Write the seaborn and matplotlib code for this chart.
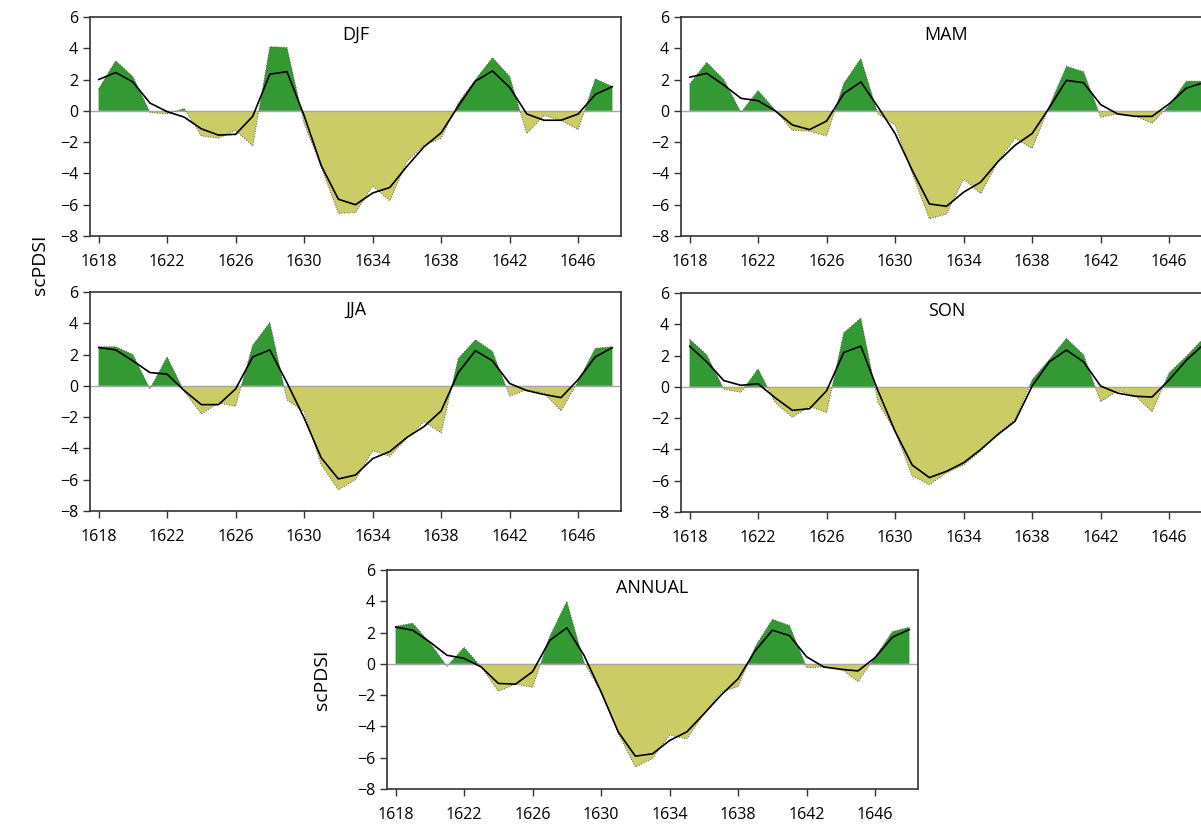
import numpy as np
import pandas as pd
import seaborn as sns
import matplotlib
matplotlib.use('Agg')
import matplotlib.pyplot as plt


# DATA
years = list(range(1618, 1649))

djf_raw = [1.4, 3.2, 2.2, -0.1, -0.2, 0.15, -1.6, -1.75, -1.25, -2.25, 4.1, 4.05, -0.8, -3.6, -6.55, -6.5,
           -4.8, -5.75, -3.25, -2.2, -1.75, 0.5, 2.0, 3.4, 2.2, -1.45, -0.3, -0.6, -1.2, 2.05, 1.55]
djf_smooth = [2.0, 2.45, 1.85, 0.5, -0.05, -0.4, -1.15, -1.55, -1.5, -0.35, 2.35, 2.5, -0.3, -3.5, -5.65, -6.0,
              -5.25, -4.9, -3.55, -2.3, -1.4, 0.3, 1.9, 2.55, 1.5, -0.2, -0.6, -0.6, -0.2, 1.05, 1.55]

mam_raw = [1.7, 3.1, 2.0, -0.1, 1.3, 0.05, -1.25, -1.3, -1.6, 1.75, 3.35, -0.2, -0.9, -4.0, -6.9, -6.6,
           -4.35, -5.3, -3.25, -1.75, -2.4, 0.3, 2.85, 2.5, -0.4, -0.2, -0.3, -0.8, 0.35, 1.9, 1.9]
mam_smooth = [2.15, 2.4, 1.65, 0.8, 0.65, 0.0, -0.9, -1.2, -0.65, 1.1, 1.85, 0.25, -1.45, -3.8, -5.95, -6.1,
              -5.2, -4.55, -3.25, -2.2, -1.45, 0.2, 1.95, 1.8, 0.4, -0.2, -0.35, -0.35, 0.45, 1.45, 1.8]

jja_raw = [2.5, 2.5, 2.0, -0.2, 1.85, -0.35, -1.8, -1.1, -1.3, 2.6, 4.05, -0.9, -1.65, -5.05, -6.65, -6.0,
           -4.15, -4.5, -3.35, -2.3, -3.0, 1.75, 2.95, 2.2, -0.65, -0.25, -0.45, -1.6, 0.3, 2.4, 2.5]
jja_smooth = [2.45, 2.3, 1.6, 0.85, 0.75, -0.3, -1.2, -1.2, -0.2, 1.85, 2.3, 0.2, -2.05, -4.6, -5.95, -5.7,
              -4.65, -4.2, -3.3, -2.6, -1.6, 0.85, 2.25, 1.6, 0.15, -0.3, -0.55, -0.75, 0.4, 1.85, 2.45]

son_raw = [3.05, 2.05, -0.15, -0.35, 1.15, -1.0, -1.95, -1.25, -1.65, 3.45, 4.4, -1.0, -2.85, -5.7, -6.25, -5.5,
           -5.0, -4.1, -2.95, -2.1, 0.45, 1.75, 3.1, 2.05, -0.95, -0.25, -0.55, -1.6, 0.9, 1.95, 3.1]
son_smooth = [2.6, 1.6, 0.4, 0.1, 0.2, -0.7, -1.5, -1.4, -0.25, 2.2, 2.6, -0.25, -2.85, -5.0, -5.8, -5.4,
              -4.85, -4.0, -3.05, -2.2, 0.05, 1.6, 2.35, 1.6, 0.05, -0.4, -0.6, -0.65, 0.45, 1.7, 2.7]

ann_raw = [2.4, 2.6, 1.35, -0.15, 1.05, -0.2, -1.75, -1.3, -1.5, 1.75, 4.0, 0.1, -1.8, -4.45, -6.6, -6.05,
           -4.55, -4.8, -3.2, -1.8, -1.45, 1.1, 2.85, 2.45, -0.25, -0.2, -0.3, -1.15, 0.45, 2.05, 2.35]
ann_smooth = [2.35, 2.15, 1.4, 0.55, 0.35, -0.2, -1.25, -1.3, -0.5, 1.5, 2.3, 0.55, -1.8, -4.35, -5.9, -5.75,
              -4.9, -4.35, -3.2, -2.0, -0.95, 0.85, 2.15, 1.8, 0.45, -0.2, -0.35, -0.45, 0.4, 1.7, 2.2]

seasons = ['DJF', 'MAM', 'JJA', 'SON', 'ANNUAL']
raw_series = [djf_raw, mam_raw, jja_raw, son_raw, ann_raw]
smooth_series = [djf_smooth, mam_smooth, jja_smooth, son_smooth, ann_smooth]

xticks = [1618, 1622, 1626, 1630, 1634, 1638, 1642, 1646]
yticks = [-8, -6, -4, -2, 0, 2, 4, 6]


sns.set_style('ticks')
plt.rcParams['font.family'] = ['Open Sans', 'DejaVu Sans']

WET = '#339933'
DRY = '#cccc66'

W, H = 1201, 825
fig = plt.figure(figsize=(W / 100, H / 100), dpi=100)

# axes boxes in pixels: left, top, right, bottom (the right column runs off the canvas)
boxes = [(90, 17, 621, 236), (681, 17, 1212, 236),
         (90, 292, 621, 511), (681, 293, 1212, 512),
         (387, 570, 918, 789)]

for season, raw, smooth, box in zip(seasons, raw_series, smooth_series, boxes):
    l, t, r, b = box
    ax = fig.add_axes([l / W, (H - b) / H, (r - l) / W, (b - t) / H])

    df = pd.DataFrame({'year': years, 'raw': raw, 'smooth': smooth})
    y = np.array(raw)
    ax.fill_between(df['year'], y, 0, where=y >= 0, interpolate=True, color=WET, lw=0, zorder=1)
    ax.fill_between(df['year'], y, 0, where=y <= 0, interpolate=True, color=DRY, lw=0, zorder=1)
    ax.axhline(0, color='#a8a8a8', lw=1, zorder=2)
    sns.lineplot(data=df, x='year', y='raw', ax=ax, color='#555555', lw=0.7, linestyle=':', zorder=3)
    sns.lineplot(data=df, x='year', y='smooth', ax=ax, color='black', lw=1.2, zorder=4)

    ax.set_xlim(1617.5, 1648.5)
    ax.set_ylim(-8, 6)
    ax.set_xticks(xticks)
    ax.set_yticks(yticks)
    ax.set_xlabel('')
    ax.set_ylabel('')
    ax.tick_params(axis='both', labelsize=11.5, length=5, width=1, color='#333333',
                   labelcolor='black', direction='out')
    ax.tick_params(axis='x', pad=8)
    for sp in ax.spines.values():
        sp.set_linewidth(1.2)
        sp.set_color('#333333')
    ax.text(0.5, 0.92, season, transform=ax.transAxes, ha='center', va='center', fontsize=13, color='black')

fig.text(40 / W, (H - 265) / H, 'scPDSI', rotation=90, ha='center', va='center', fontsize=14, color='black')
fig.text(322 / W, (H - 680) / H, 'scPDSI', rotation=90, ha='center', va='center', fontsize=14, color='black')

fig.savefig('out.png', dpi=100)
